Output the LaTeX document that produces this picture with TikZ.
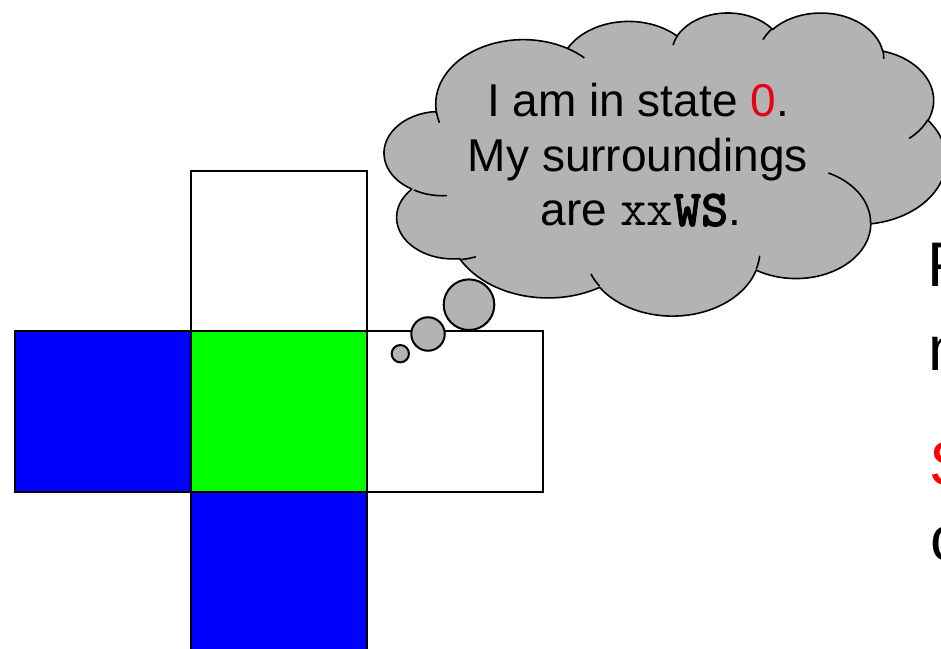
\documentclass[tikz,border=0pt]{standalone}
\usepackage{fontspec}
\setmainfont{Liberation Sans}
\newfontfamily\monobold{lmmonolt10-bold.otf}[FakeBold=1.6]
\usepackage{tikz}
\usepackage{xcolor}
\usetikzlibrary{positioning}

\definecolor{cellblue}{RGB}{0,0,255}
\definecolor{cellgreen}{RGB}{0,255,0}
\definecolor{cloudgray}{RGB}{179,179,179}
\definecolor{statered}{RGB}{232,0,20}

% one puff of the cloud: x radius, y radius, start angle, sweep
\newcommand{\puff}[4]{arc[x radius=#1, y radius=#2,
  start angle={atan2(#1*sin(#3),#2*cos(#3))},
  delta angle={mod(atan2(#1*sin(#3+#4),#2*cos(#3+#4))-atan2(#1*sin(#3),#2*cos(#3))+720,360)}]}

\tikzset{
  cell/.style={draw, line width=2pt, minimum width=176pt, minimum height=160pt,
    inner sep=0pt, outer sep=0pt},
  bubble/.style={circle, draw, line width=2pt, fill=cloudgray, inner sep=0pt},
  puffline/.style={line width=1.6pt, line join=round},
  thought/.style={font=\fontsize{46}{54}\selectfont, inner sep=0pt, anchor=base},
  edgeword/.style={font=\fontsize{63}{70}\selectfont, inner sep=0pt, anchor=base west}
}

\begin{document}
\begin{tikzpicture}[x=1pt,y=1pt,node distance=0pt]
  \useasboundingbox (0,0) rectangle (941,648);

  % the cross of cells
  \node[cell, fill=cellgreen] (mid) at (279,236.5) {};
  \node[cell, fill=white, above=of mid] (up) {};
  \node[cell, fill=cellblue, left=of mid] (west) {};
  \node[cell, fill=white, right=of mid] (east) {};
  \node[cell, fill=cellblue, below=of mid] (down) {};

  % thought bubbles
  \node[bubble, minimum size=17.3pt] (dotA) at (400.3,294.3) {};
  \node[bubble, minimum size=33.5pt] (dotB) at (428,314) {};
  \node[bubble, minimum size=50.6pt] (dotC) at (469,343.3) {};

  % the cloud
  \begin{scope}[shift={(386,636)}, xscale=1.2963, yscale=-0.70139]
    \draw[puffline, fill=cloudgray] (39.00,143.70)
      \puff{67.53}{91.90}{-190.4875}{123.7805}
      \puff{53.33}{72.67}{-144.1024}{89.9452}
      \puff{43.65}{59.45}{-145.8079}{99.7230}
      \puff{48.57}{65.95}{-130.9861}{117.2417}
      \puff{53.33}{72.73}{-78.7089}{109.0269}
      \puff{67.75}{92.20}{-46.2673}{130.2690}
      \puff{57.85}{78.67}{0.6250}{114.0333}
      \puff{67.52}{92.15}{22.4516}{115.1726}
      \puff{77.20}{105.43}{66.2426}{77.8226}
      \puff{43.60}{59.18}{-274.9421}{146.7356}
      \puff{43.45}{59.45}{-246.8285}{152.5189} -- cycle;
    \draw[puffline] (46.93,261.77) \puff{43.45}{59.45}{86.742}{26.4295};
    \draw[puffline] (69.28,348.99) \puff{43.60}{59.18}{73.6105}{11.4475};
    \draw[puffline] (164.78,390.90) \puff{67.52}{92.15}{137.6242}{14.0811};
    \draw[puffline] (288.27,347.51) \puff{67.52}{92.15}{6.4533}{15.9984};
    \draw[puffline] (341.29,229.54) \puff{57.85}{78.67}{-70.2924}{70.9174};
    \draw[puffline] (417.98,153.54) \puff{53.33}{72.73}{30.3180}{27.7515};
    \draw[puffline] (383.24,54.26) \puff{48.57}{65.95}{-13.7443}{14.8589};
    \draw[puffline] (290.78,39.52) \puff{48.57}{65.95}{-149.1815}{18.1954};
    \draw[puffline] (221.41,47.20) \puff{43.65}{59.45}{-163.4943}{17.6864};
    \draw[puffline] (140.00,51.92) \puff{67.53}{91.90}{-66.7070}{12.3194};
    \draw[puffline] (41.27,157.89) \puff{67.53}{91.90}{157.6544}{11.8582};
  \end{scope}

  \node[thought] (lineA) at (638,531) {I am in state \textcolor{statered}{0}.};
  \node[thought] (lineB) at (638,476) {My surroundings};
  \node[thought] (lineC) at (641,422) {are {\fontsize{52}{54}\selectfont\ttfamily xx\monobold WS}.};

  % words running off the right edge
  \node[edgeword] (wordA) at (927,361) {P};
  \node[edgeword] (wordB) at (928,277) {n};
  \node[edgeword, text=red] (wordC) at (929,163) {S};
  \node[edgeword] (wordD) at (930,88) {c};
\end{tikzpicture}
\end{document}
